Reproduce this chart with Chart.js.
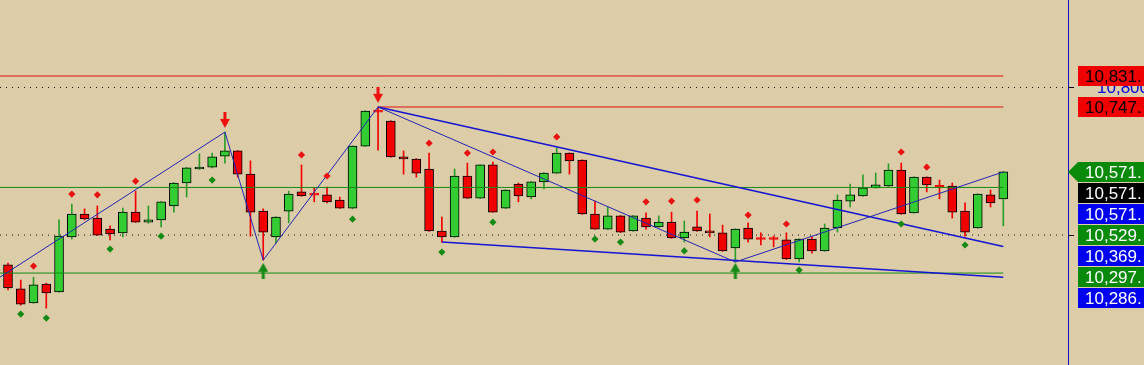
<!DOCTYPE html>
<html><head><meta charset="utf-8">
<script src="https://cdn.jsdelivr.net/npm/chart.js@4.4.1/dist/chart.umd.min.js"></script>
<style>html,body{margin:0;padding:0;background:#DDCCA8;overflow:hidden}#wrap{width:1144px;height:365px}</style>
</head><body><div id="wrap"><canvas id="c" width="1144" height="365"></canvas></div>
<script>
// ---- candle data (index 0..78) ----
const opens  = [10319,10254,10216,10267,10246,10395,10457,10446,10416,10406,10462,10435,10441,10479,10541,10579,10584,10614,10628,10565,10465,10395,10465,10517,10510,10509,10495,10473,10641,10736,10709,10612,10606,10579,10411,10395,10560,10500,10590,10473,10538,10503,10544,10568,10622,10603,10457,10416,10452,10411,10446,10422,10435,10392,10422,10411,10406,10365,10419,10390,10390,10387,10335,10389,10357,10419,10492,10506,10528,10533,10576,10460,10557,10531,10533,10465,10419,10509,10498];
const highs  = [10324,10278,10286,10270,10441,10484,10471,10479,10425,10473,10519,10479,10491,10542,10583,10620,10622,10679,10629,10601,10471,10450,10519,10590,10528,10530,10503,10642,10737,10747,10710,10628,10607,10622,10449,10579,10595,10591,10598,10523,10541,10545,10569,10636,10623,10604,10492,10476,10453,10453,10460,10452,10462,10438,10465,10457,10427,10417,10433,10406,10397,10406,10390,10395,10430,10509,10538,10563,10568,10593,10595,10558,10558,10549,10541,10487,10512,10522,10572];
const lows   = [10251,10210,10215,10202,10245,10389,10441,10399,10387,10395,10434,10432,10422,10462,10503,10578,10582,10595,10557,10397,10332,10378,10433,10505,10490,10487,10472,10471,10640,10630,10611,10565,10557,10410,10381,10394,10499,10499,10461,10472,10490,10498,10525,10567,10565,10456,10415,10415,10407,10410,10416,10421,10391,10381,10410,10395,10356,10327,10381,10373,10368,10334,10327,10351,10356,10408,10476,10505,10527,10532,10456,10459,10517,10498,10446,10397,10418,10476,10425];
const closes = [10257,10213,10265,10243,10397,10457,10444,10400,10403,10462,10435,10441,10490,10541,10582,10584,10612,10628,10565,10462,10408,10449,10511,10506,10508,10490,10473,10641,10736,10733,10612,10606,10568,10411,10395,10560,10500,10590,10462,10522,10506,10544,10568,10622,10601,10457,10416,10452,10408,10452,10422,10435,10392,10408,10411,10406,10357,10416,10389,10388,10388,10335,10389,10357,10419,10495,10509,10528,10536,10576,10457,10557,10536,10529,10462,10408,10511,10487,10571];
const crossIdx = [24,29,59,60,73];

// ---- signal markers ----
const redDotIdx   = [2,5,7,10,23,25,33,36,38,43,50,52,54,58,61,70,72];
const redDotVal   = [10316,10511,10509,10546,10617,10560,10649,10622,10625,10666,10490,10492,10495,10454,10430,10625,10584];
const greenDotIdx = [1,3,8,12,16,27,34,38,46,48,53,62,70,75];
const greenDotVal = [10186,10175,10362,10397,10549,10443,10354,10435,10389,10381,10357,10305,10430,10373];
const downArrowIdx = [17,29];
const downArrowVal = [10712,10780];
const upArrowIdx   = [20,57];
const upArrowVal   = [10303,10303];

// ---- drawn lines ----
const zigIdx = [-0.63,17,20,29,57,78];
const zigVal = [10286,10679,10332,10747,10327,10571];
const upperTrendIdx = [29,78];
const upperTrendVal = [10747,10369];
const lowerTrendIdx = [34,78];
const lowerTrendVal = [10381,10286];
const redLevels   = [10831,10747];
const redLevelFrom = [-0.63,29];
const greenLevels = [10529,10297];
const gridLevels  = [10800,10400];

// ---- right-hand price tags ----
const tagValues = [10831,10747,10571,10571,10571,10529,10369,10297,10286];
const tagTexts  = ['10,831.','10,747.','10,571.','10,571.','10,571.','10,529.','10,369.','10,297.','10,286.'];
const tagBg     = ['#f00000','#f00000','#0a8a0a','#000000','#0000f0','#0a8a0a','#0000f0','#0a8a0a','#0000f0'];
const tagFg     = ['#000','#000','#fff','#fff','#fff','#fff','#fff','#fff','#fff'];
const hiddenTagValue = 10800, hiddenTagText = '10,800';

const X_MIN = -0.627, X_MAX = 83.07, LAST = 78;
const GREEN = '#33cc33', RED = '#f20000';

function arrowCanvas(color, down){
  const c = document.createElement('canvas'); c.width = 10; c.height = 16;
  const g = c.getContext('2d'); g.fillStyle = color;
  if (down){
    g.fillRect(3.5,0,3,8);
    g.beginPath(); g.moveTo(0,7); g.lineTo(10,7); g.lineTo(5,16); g.closePath(); g.fill();
  } else {
    g.fillRect(3.5,8,3,8);
    g.beginPath(); g.moveTo(0,9); g.lineTo(10,9); g.lineTo(5,0); g.closePath(); g.fill();
  }
  return c;
}

const isUp = i => closes[i] >= opens[i];
const isCross = i => crossIdx.includes(i);
const idx = opens.map((_,i)=>i);

function lineDs(xs, ys, color, width, order, dash){
  return {type:'line', data: xs.map((x,k)=>({x, y: ys[k]})), borderColor: color, borderWidth: width,
    pointRadius:0, fill:false, tension:0, order, borderDash: dash || []};
}

const datasets = [];
gridLevels.forEach(v => datasets.push(lineDs([X_MIN, X_MAX],[v,v],'#111',1,20,[1,5])));
datasets.push({type:'bar', data: idx.map(i=>({x:i, y:[lows[i], highs[i]]})),
  backgroundColor: idx.map(i => isUp(i) ? '#2a9e2a' : RED), borderWidth:0,
  barThickness:1, grouped:false, order:10});
datasets.push({type:'bar', data: idx.map(i=>({x:i, y:[opens[i], closes[i]]})),
  backgroundColor: idx.map(i => isUp(i) ? GREEN : RED),
  borderColor: idx.map(i => isCross(i) ? RED : '#000'),
  borderWidth:1, borderSkipped:false, barThickness:9, grouped:false, minBarLength:2, order:9});
redLevels.forEach((v,k) => datasets.push(lineDs([redLevelFrom[k], LAST],[v,v],'#e01010',1,5)));
greenLevels.forEach(v => datasets.push(lineDs([X_MIN, LAST],[v,v],'#138a13',1,5)));
datasets.push(lineDs(zigIdx, zigVal, '#2424b4', 1, 4));
datasets.push(lineDs(upperTrendIdx, upperTrendVal, '#1414d2', 1.5, 4));
datasets.push(lineDs(lowerTrendIdx, lowerTrendVal, '#1414d2', 1.5, 4));
datasets.push({type:'scatter', data: redDotIdx.map((x,k)=>({x, y:redDotVal[k]})), pointStyle:'rectRot',
  pointRadius:3.6, backgroundColor:'#e81010', borderWidth:0, order:2});
datasets.push({type:'scatter', data: greenDotIdx.map((x,k)=>({x, y:greenDotVal[k]})), pointStyle:'rectRot',
  pointRadius:3.6, backgroundColor:'#158a15', borderWidth:0, order:2});
datasets.push({type:'scatter', data: downArrowIdx.map((x,k)=>({x, y:downArrowVal[k]})),
  pointStyle: arrowCanvas('#ee1010', true), pointRadius:8, order:1});
datasets.push({type:'scatter', data: upArrowIdx.map((x,k)=>({x, y:upArrowVal[k]})),
  pointStyle: arrowCanvas('#158a15', false), pointRadius:8, order:1});

const bgPlugin = {id:'bg', beforeDraw(chart){
  const c = chart.ctx; c.save(); c.fillStyle = '#DDCCA8'; c.fillRect(0,0,chart.width,chart.height); c.restore();
}};

const tagPlugin = {id:'tags', afterDraw(chart){
  const c = chart.ctx, ys = chart.scales.y, right = chart.chartArea.right;
  c.save();
  c.strokeStyle = '#1010c8'; c.lineWidth = 1;
  c.beginPath(); c.moveTo(right+0.5, 0); c.lineTo(right+0.5, chart.height); c.stroke();
  c.strokeStyle = '#000';
  gridLevels.forEach(v => { const y = Math.round(ys.getPixelForValue(v))+0.5;
    c.beginPath(); c.moveTo(right, y); c.lineTo(right+6, y); c.stroke(); });
  c.font = '17px "Liberation Sans", Arial, sans-serif';
  c.textBaseline = 'middle';
  c.fillStyle = '#0000e0';
  c.fillText(hiddenTagText, right + 29, ys.getPixelForValue(hiddenTagValue) + 1);
  let prevBottom = -100;
  const x0 = right + 10, h = 20;
  tagValues.forEach((v,k) => {
    let top = Math.max(Math.round(ys.getPixelForValue(v)) - 10, prevBottom + 1);
    c.fillStyle = tagBg[k];
    if (k === 2) {
      c.beginPath(); c.moveTo(right, top + h/2); c.lineTo(x0, top); c.lineTo(chart.width, top);
      c.lineTo(chart.width, top + h); c.lineTo(x0, top + h); c.closePath(); c.fill();
    } else {
      c.fillRect(x0, top, chart.width - x0, h);
    }
    c.fillStyle = tagFg[k];
    c.fillText(tagTexts[k], x0 + 7, top + h/2 + 1);
    prevBottom = top + h;
  });
  c.restore();
}};

new Chart(document.getElementById('c'), {
  type:'bar',
  data:{datasets},
  options:{
    responsive:false, animation:false, devicePixelRatio:1,
    layout:{autoPadding:false, padding:{left:0, right:76, top:0, bottom:0}},
    plugins:{legend:{display:false}, tooltip:{enabled:false}},
    scales:{
      x:{type:'linear', min:X_MIN, max:X_MAX, display:false, offset:false},
      y:{type:'linear', min:10047.9, max:11036.9, display:false}
    }
  },
  plugins:[bgPlugin, tagPlugin]
});
</script></body></html>
